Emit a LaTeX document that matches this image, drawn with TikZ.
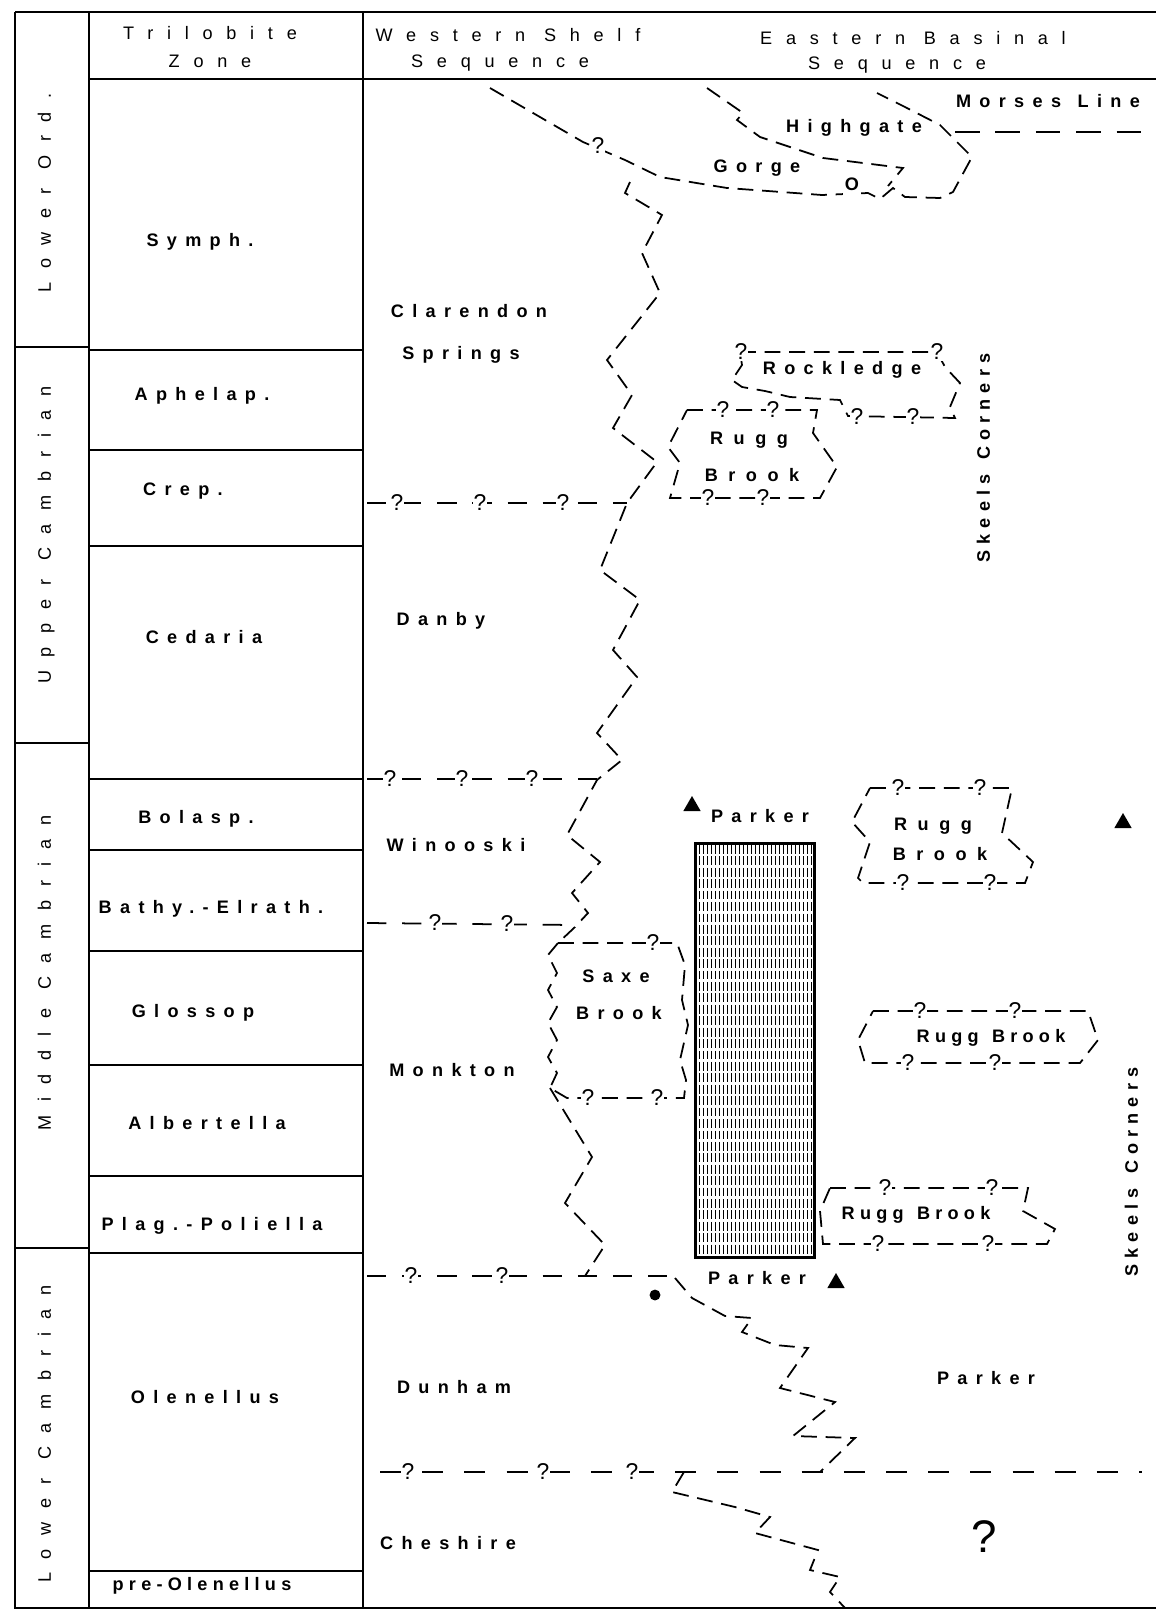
\documentclass[tikz,border=0pt]{standalone}
\usepackage{fontspec}
\usetikzlibrary{shapes.geometric}
\newfontfamily\hdrfont[LetterSpace=76]{Liberation Sans}
\newfontfamily\unitfont[LetterSpace=46,WordSpace=1.25]{Liberation Sans Bold}
\newfontfamily\widefont[LetterSpace=58]{Liberation Sans Bold}
\newfontfamily\boxfont[LetterSpace=29,WordSpace=1.3]{Liberation Sans Bold}
\newfontfamily\skfont[LetterSpace=34,WordSpace=1.3]{Liberation Sans Bold}
\newfontfamily\qfont{Liberation Sans}

\begin{document}
\begin{tikzpicture}[x=0.02cm,y=-0.02cm,
  frame/.style={line width=1.1pt},
  facies/.style={line width=1pt,dash pattern=on 9pt off 5pt},
  horizon/.style={line width=1pt,dash pattern=on 11pt off 9pt},
  hdr/.style={font=\hdrfont\fontsize{10.3}{12}\selectfont,text height=7.5pt,text depth=2pt,inner sep=0pt},
  era/.style={hdr,rotate=90},
  unit/.style={font=\unitfont\fontsize{10.3}{12}\selectfont,text height=7.5pt,text depth=2pt,inner sep=0pt},
  unitw/.style={unit,font=\widefont\fontsize{10.3}{12}\selectfont},
  unitb/.style={unit,font=\boxfont\fontsize{10.3}{12}\selectfont},
  skeels/.style={unit,font=\skfont\fontsize{10.3}{12}\selectfont,rotate=90},
  qm/.style={font=\qfont\fontsize{13}{13}\selectfont,fill=white,inner sep=0.6pt},
  tri/.style={regular polygon,regular polygon sides=3,fill=black,inner sep=0pt,minimum size=0.4cm}]
\useasboundingbox (0,0) rectangle (1156,1613);

% frame and columns
\draw[frame] (15,12) -- (1156,12);
\draw[frame] (15,12) -- (15,1608) -- (1156,1608);
\draw[frame] (89,12) -- (89,1608);
\draw[frame] (363,12) -- (363,1608);
\draw[frame] (89,79) -- (1156,79);
\foreach \y in {347,743,1248} \draw[frame] (15,\y) -- (89,\y);
\foreach \y in {350,450,546,779,850,951,1065,1176,1253,1571} \draw[frame] (89,\y) -- (363,\y);

% headings
\node[hdr] (trilo) at (210,35) {Trilobite};
\node[hdr] (zonehd) at (210,63) {Zone};
\node[hdr] (westa) at (508,37) {Western Shelf};
\node[hdr] (westb) at (500,63) {Sequence};
\node[hdr] (easta) at (913,40) {Eastern Basinal};
\node[hdr] (eastb) at (897,65) {Sequence};

\node[era] (lord) at (46,193) {Lower Ord.};
\node[era] (ucamb) at (46,535) {Upper Cambrian};
\node[era] (mcamb) at (46,973) {Middle Cambrian};
\node[era] (lcamb) at (46,1434) {Lower Cambrian};

\node[unit] (symph) at (200,242) {Symph.};
\node[unit] (aphel) at (202,396) {Aphelap.};
\node[unit] (crep) at (183,491) {Crep.};
\node[unit] (cedar) at (204,639) {Cedaria};
\node[unit] (bolas) at (196,819) {Bolasp.};
\node[unit] (bathy) at (211,909) {Bathy.-Elrath.};
\node[unit] (gloss) at (193,1013) {Glossop};
\node[unit] (alber) at (207,1125) {Albertella};
\node[unit] (plag) at (212,1226) {Plag.-Poliella};
\node[unit] (olen) at (205,1399) {Olenellus};
\node[unitb] (preol) at (202,1586) {pre-Olenellus};

% Parker bar
\foreach \x in {699,703,...,811} \draw[line width=0.45pt,dash pattern=on 5pt off 1.5pt] (\x,845) -- (\x,1255);
\draw[line width=1.7pt] (695,843) rectangle (814,1257);

% Gorge and Highgate
\draw[facies] (490,88) -- (583,142) -- (625,160) -- (660,177) -- (727,188) -- (822,195) -- (868,193) -- (880,199) -- (893,188) -- (905,197) -- (940,198) -- (953,192) -- (972,157) -- (940,125) -- (905,107) -- (877,93);
\draw[facies] (707,88) -- (743,113) -- (737,120) -- (760,137) -- (823,158) -- (903,168) -- (888,186);
\draw[line width=1pt,dash pattern=on 14pt off 9pt] (955,132) -- (1142,132);

% shelf edge
\draw[facies] (630,182) -- (625,193) -- (662,215) -- (642,253) -- (660,293) -- (607,360) -- (632,395) -- (613,428) -- (657,462) -- (627,503) -- (600,570) -- (640,600) -- (613,650) -- (637,677) -- (597,733) -- (622,760) -- (597,780) -- (567,835) -- (600,862) -- (572,893) -- (588,913) -- (575,927) -- (558,943);
\draw[facies] (558,943) -- (677,943) -- (685,965) -- (682,1000) -- (688,1025) -- (680,1060) -- (686,1080) -- (684,1098) -- (567,1098) -- (550,1088) -- (557,1073) -- (548,1057) -- (557,1040) -- (548,1023) -- (557,1007) -- (548,990) -- (557,973) -- (548,955) -- cycle;
\draw[facies] (550,1088) -- (592,1157) -- (565,1203) -- (605,1245) -- (585,1276);
\draw[facies] (675,1278) -- (692,1298) -- (725,1316) -- (752,1318) -- (742,1332) -- (775,1345) -- (808,1348) -- (780,1388) -- (835,1402) -- (793,1436) -- (855,1438) -- (820,1472);
\draw[facies] (684,1472) -- (672,1492) -- (735,1507) -- (770,1517) -- (755,1533) -- (818,1550) -- (810,1570) -- (840,1577) -- (830,1592) -- (845,1608);

% zone lines in the shelf
\draw[horizon] (367,503) -- (627,503);
\draw[horizon] (367,779) -- (597,779);
\draw[horizon] (367,923) -- (575,925);
\draw[horizon] (367,1276) -- (675,1276);
\draw[line width=1pt,dash pattern=on 12pt off 12pt] (380,1472) -- (1142,1472);

% basinal lenses
\draw[facies] (740,352) -- (937,352) -- (945,367) -- (960,383) -- (950,407) -- (955,418) -- (848,416) -- (840,400) -- (790,397) -- (765,391) -- (742,387) -- (732,380) -- (742,365) -- cycle;
\draw[facies] (687,410) -- (817,410) -- (813,433) -- (837,467) -- (820,498) -- (670,498) -- (680,463) -- (668,447) -- cycle;
\draw[facies] (870,788) -- (1012,788) -- (1002,833) -- (1033,862) -- (1025,883) -- (863,883) -- (858,878) -- (870,842) -- (852,822) -- cycle;
\draw[facies] (873,1011) -- (1088,1011) -- (1098,1040) -- (1080,1063) -- (865,1063) -- (858,1040) -- cycle;
\draw[facies] (830,1188) -- (1028,1188) -- (1023,1211) -- (1055,1229) -- (1047,1244) -- (823,1244) -- (820,1211) -- cycle;

% question marks
\foreach \x/\y in {598/146, 397/503, 480/503, 563/503, 390/779, 462/779, 532/779, 435/923, 507/924,
  653/943, 588/1098, 657/1098, 411/1276, 502/1276, 408/1472, 543/1472, 632/1472,
  741/352, 937/352, 857/417, 913/417, 723/410, 773/410, 708/498, 763/498,
  898/788, 980/788, 903/883, 990/883, 920/1011, 1015/1011, 908/1063, 995/1063,
  885/1188, 992/1188, 878/1244, 988/1244}
  \node[qm] at (\x,\y) {?};
\node[unit,fill=white,inner sep=1pt] (gorgeo) at (852,186) {O};

% units
\node[unit] (morses) at (1048,103) {Morses Line};
\node[unit] (highg) at (854,128) {Highgate};
\node[unit] (gorge) at (757,168) {Gorge};
\node[unit] (clara) at (469,313) {Clarendon};
\node[unit] (clarb) at (461,355) {Springs};
\node[unit] (rockl) at (842,370) {Rockledge};
\node[unitw] (rugga) at (749,440) {Rugg};
\node[unitw] (ruggb) at (752,477) {Brook};
\node[skeels] (skeela) at (985,458) {Skeels Corners};
\node[unit] (danby) at (441,621) {Danby};
\node[unit] (parka) at (760,818) {Parker};
\node[tri] (tria) at (692,806) {};
\node[unitw] (ruggc) at (933,826) {Rugg};
\node[unitw] (ruggd) at (940,856) {Brook};
\node[tri] (trib) at (1123,823) {};
\node[unit] (winoo) at (456,847) {Winooski};
\node[unit] (saxea) at (616,978) {Saxe};
\node[unit] (saxeb) at (619,1015) {Brook};
\node[unitb] (rugge) at (991,1038) {Rugg Brook};
\node[unit] (monk) at (452,1072) {Monkton};
\node[skeels] (skeelb) at (1133,1172) {Skeels Corners};
\node[unitb] (ruggf) at (916,1215) {Rugg Brook};
\node[unit] (parkb) at (757,1280) {Parker};
\node[tri] (tric) at (836,1283) {};
\node[circle,fill=black,inner sep=2.2pt] (dot) at (655,1295) {};
\node[unit] (parkc) at (986,1380) {Parker};
\node[unit] (dunham) at (454,1389) {Dunham};
\node[unit] (chesh) at (448,1545) {Cheshire};
\node[font=\qfont\fontsize{26}{26}\selectfont] (bigq) at (984,1537) {?};
\end{tikzpicture}
\end{document}
